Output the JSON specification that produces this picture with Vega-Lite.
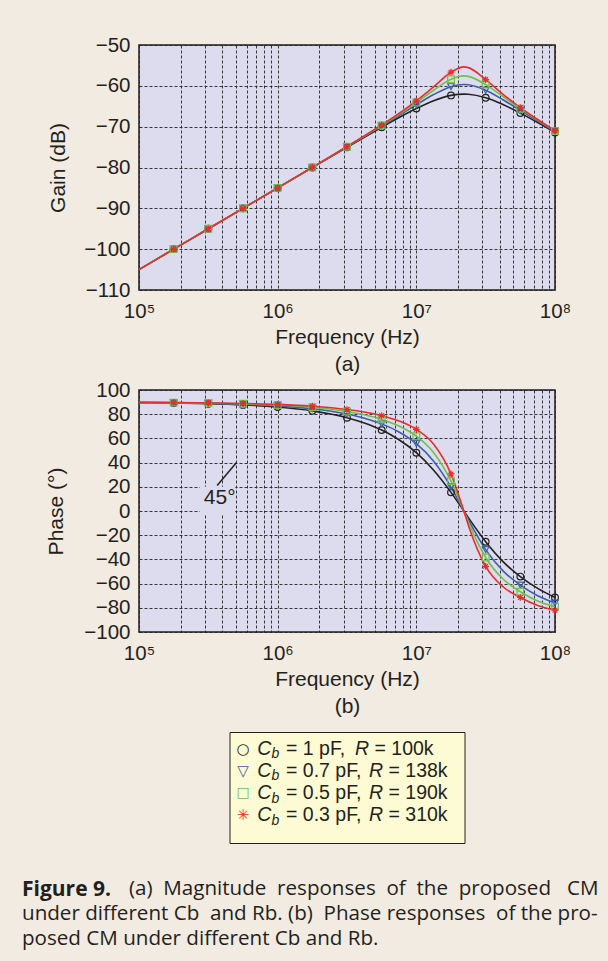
{
  "$schema": "https://vega.github.io/schema/vega-lite/v6.json",
  "background": "#f2ebe1",
  "padding": {"left": 22, "top": 34, "right": 30, "bottom": 40},
  "bounds": "flush",
  "center": true,
  "spacing": 100,
  "resolve": {"scale": {"x": "independent", "y": "independent"}},
  "config": {
    "font": "Liberation Sans",
    "view": {"fill": "#dcdcee", "stroke": "#1e1e1e", "strokeWidth": 1.5},
    "axis": {
      "labelFont": "Liberation Sans", "labelFontSize": 20.5, "labelColor": "#231f20",
      "titleFont": "Liberation Sans", "titleFontSize": 21, "titleFontWeight": "normal", "titleColor": "#231f20",
      "domain": false, "ticks": false, "tickSize": 0, "grid": true,
      "gridColor": "#222222", "gridDash": [3, 2], "gridWidth": 0.9, "gridOpacity": 1,
      "labelOverlap": false, "labelFlush": false, "labelBound": false
    },
    "axisX": {"labelPadding": 11, "titlePadding": 5, "titleLineHeight": 27},
    "axisY": {"labelPadding": 9}
  },
  "title": {
    "text": "Figure 9.",
    "subtitle": [
      "\u200b\u00a0\u00a0\u00a0\u00a0\u00a0\u00a0\u00a0\u00a0\u00a0\u00a0\u00a0\u00a0\u00a0\u00a0\u00a0\u00a0\u00a0\u00a0\u00a0\u00a0(a)\u00a0 Magnitude\u00a0 responses\u00a0 of\u00a0 the\u00a0 proposed\u00a0\u00a0 CM",
      "under different Cb\u00a0 and Rb. (b)\u00a0 Phase responses\u00a0 of the pro-",
      "posed CM under different Cb and Rb."
    ],
    "orient": "bottom", "anchor": "start", "frame": "group",
    "dx": -117, "offset": 35,
    "font": "Open Sans", "fontSize": 21, "fontWeight": "bold", "color": "#231f20",
    "subtitleFont": "Open Sans", "subtitleFontSize": 20.6, "subtitleColor": "#231f20", "subtitleFontWeight": "normal",
    "subtitleLineHeight": 25, "subtitlePadding": -21
  },
  "datasets": {
    "curves": [
      {"s": "Cb = 1 pF, R = 100k", "f": 100000, "g": -105.0, "p": 89.6, "m": 0},
      {"s": "Cb = 1 pF, R = 100k", "f": 177828, "g": -100.0, "p": 89.3, "m": 1},
      {"s": "Cb = 1 pF, R = 100k", "f": 316228, "g": -95.0, "p": 88.7, "m": 1},
      {"s": "Cb = 1 pF, R = 100k", "f": 562341, "g": -90.0, "p": 87.7, "m": 1},
      {"s": "Cb = 1 pF, R = 100k", "f": 1000000, "g": -85.01, "p": 85.9, "m": 1},
      {"s": "Cb = 1 pF, R = 100k", "f": 1778279, "g": -80.01, "p": 82.75, "m": 1},
      {"s": "Cb = 1 pF, R = 100k", "f": 3162278, "g": -75.04, "p": 77.1, "m": 1},
      {"s": "Cb = 1 pF, R = 100k", "f": 4216965, "g": -72.58, "p": 72.7, "m": 0},
      {"s": "Cb = 1 pF, R = 100k", "f": 5623413, "g": -70.14, "p": 66.9, "m": 1},
      {"s": "Cb = 1 pF, R = 100k", "f": 7498942, "g": -67.77, "p": 58.9, "m": 0},
      {"s": "Cb = 1 pF, R = 100k", "f": 10000000, "g": -65.55, "p": 48.2, "m": 1},
      {"s": "Cb = 1 pF, R = 100k", "f": 13335214, "g": -63.63, "p": 33.7, "m": 0},
      {"s": "Cb = 1 pF, R = 100k", "f": 17782794, "g": -62.34, "p": 15.4, "m": 1},
      {"s": "Cb = 1 pF, R = 100k", "f": 22000000, "g": -62.03, "p": 0, "m": 0},
      {"s": "Cb = 1 pF, R = 100k", "f": 23713737, "g": -62.07, "p": -5.5, "m": 0},
      {"s": "Cb = 1 pF, R = 100k", "f": 31622777, "g": -62.91, "p": -25.4, "m": 1},
      {"s": "Cb = 1 pF, R = 100k", "f": 42169650, "g": -64.57, "p": -41.8, "m": 0},
      {"s": "Cb = 1 pF, R = 100k", "f": 56234133, "g": -66.68, "p": -54.2, "m": 1},
      {"s": "Cb = 1 pF, R = 100k", "f": 74989421, "g": -68.99, "p": -64.0, "m": 0},
      {"s": "Cb = 1 pF, R = 100k", "f": 100000000, "g": -71.4, "p": -71.5, "m": 1},

      {"s": "Cb = 0.7 pF, R = 138k", "f": 100000, "g": -105.0, "p": 89.7, "m": 0},
      {"s": "Cb = 0.7 pF, R = 138k", "f": 177828, "g": -100.0, "p": 89.45, "m": 1},
      {"s": "Cb = 0.7 pF, R = 138k", "f": 316228, "g": -95.0, "p": 89.0, "m": 1},
      {"s": "Cb = 0.7 pF, R = 138k", "f": 562341, "g": -90.0, "p": 88.3, "m": 1},
      {"s": "Cb = 0.7 pF, R = 138k", "f": 1000000, "g": -85.0, "p": 86.9, "m": 1},
      {"s": "Cb = 0.7 pF, R = 138k", "f": 1778279, "g": -80.0, "p": 84.5, "m": 1},
      {"s": "Cb = 0.7 pF, R = 138k", "f": 3162278, "g": -74.95, "p": 80.1, "m": 1},
      {"s": "Cb = 0.7 pF, R = 138k", "f": 4216965, "g": -72.41, "p": 76.7, "m": 0},
      {"s": "Cb = 0.7 pF, R = 138k", "f": 5623413, "g": -69.85, "p": 72.0, "m": 1},
      {"s": "Cb = 0.7 pF, R = 138k", "f": 7498942, "g": -67.26, "p": 65.3, "m": 0},
      {"s": "Cb = 0.7 pF, R = 138k", "f": 10000000, "g": -64.65, "p": 55.7, "m": 1},
      {"s": "Cb = 0.7 pF, R = 138k", "f": 13335214, "g": -62.14, "p": 41.2, "m": 0},
      {"s": "Cb = 0.7 pF, R = 138k", "f": 17782794, "g": -60.2, "p": 19.8, "m": 1},
      {"s": "Cb = 0.7 pF, R = 138k", "f": 22000000, "g": -59.66, "p": 0, "m": 0},
      {"s": "Cb = 0.7 pF, R = 138k", "f": 23713737, "g": -59.73, "p": -7.2, "m": 0},
      {"s": "Cb = 0.7 pF, R = 138k", "f": 31622777, "g": -61.09, "p": -31.9, "m": 1},
      {"s": "Cb = 0.7 pF, R = 138k", "f": 42169650, "g": -63.42, "p": -49.5, "m": 0},
      {"s": "Cb = 0.7 pF, R = 138k", "f": 56234133, "g": -66.01, "p": -61.2, "m": 1},
      {"s": "Cb = 0.7 pF, R = 138k", "f": 74989421, "g": -68.61, "p": -70.0, "m": 0},
      {"s": "Cb = 0.7 pF, R = 138k", "f": 100000000, "g": -71.19, "p": -76.0, "m": 1},

      {"s": "Cb = 0.5 pF, R = 190k", "f": 100000, "g": -105.0, "p": 89.75, "m": 0},
      {"s": "Cb = 0.5 pF, R = 190k", "f": 177828, "g": -100.0, "p": 89.6, "m": 1},
      {"s": "Cb = 0.5 pF, R = 190k", "f": 316228, "g": -95.0, "p": 89.2, "m": 1},
      {"s": "Cb = 0.5 pF, R = 190k", "f": 562341, "g": -90.0, "p": 88.6, "m": 1},
      {"s": "Cb = 0.5 pF, R = 190k", "f": 1000000, "g": -85.0, "p": 87.6, "m": 1},
      {"s": "Cb = 0.5 pF, R = 190k", "f": 1778279, "g": -79.98, "p": 85.7, "m": 1},
      {"s": "Cb = 0.5 pF, R = 190k", "f": 3162278, "g": -74.9, "p": 82.2, "m": 1},
      {"s": "Cb = 0.5 pF, R = 190k", "f": 4216965, "g": -72.32, "p": 79.5, "m": 0},
      {"s": "Cb = 0.5 pF, R = 190k", "f": 5623413, "g": -69.69, "p": 75.7, "m": 1},
      {"s": "Cb = 0.5 pF, R = 190k", "f": 7498942, "g": -66.96, "p": 70.2, "m": 0},
      {"s": "Cb = 0.5 pF, R = 190k", "f": 10000000, "g": -64.09, "p": 61.8, "m": 1},
      {"s": "Cb = 0.5 pF, R = 190k", "f": 13335214, "g": -61.08, "p": 48.2, "m": 0},
      {"s": "Cb = 0.5 pF, R = 190k", "f": 17782794, "g": -58.39, "p": 24.7, "m": 1},
      {"s": "Cb = 0.5 pF, R = 190k", "f": 22000000, "g": -57.56, "p": 0, "m": 0},
      {"s": "Cb = 0.5 pF, R = 190k", "f": 23713737, "g": -57.68, "p": -9.1, "m": 0},
      {"s": "Cb = 0.5 pF, R = 190k", "f": 31622777, "g": -59.69, "p": -38.4, "m": 1},
      {"s": "Cb = 0.5 pF, R = 190k", "f": 42169650, "g": -62.65, "p": -56.2, "m": 0},
      {"s": "Cb = 0.5 pF, R = 190k", "f": 56234133, "g": -65.6, "p": -66.7, "m": 1},
      {"s": "Cb = 0.5 pF, R = 190k", "f": 74989421, "g": -68.39, "p": -74.3, "m": 0},
      {"s": "Cb = 0.5 pF, R = 190k", "f": 100000000, "g": -71.07, "p": -79.0, "m": 1},

      {"s": "Cb = 0.3 pF, R = 310k", "f": 100000, "g": -105.0, "p": 89.8, "m": 0},
      {"s": "Cb = 0.3 pF, R = 310k", "f": 177828, "g": -100.0, "p": 89.7, "m": 1},
      {"s": "Cb = 0.3 pF, R = 310k", "f": 316228, "g": -95.0, "p": 89.4, "m": 1},
      {"s": "Cb = 0.3 pF, R = 310k", "f": 562341, "g": -90.0, "p": 88.9, "m": 1},
      {"s": "Cb = 0.3 pF, R = 310k", "f": 1000000, "g": -84.99, "p": 88.1, "m": 1},
      {"s": "Cb = 0.3 pF, R = 310k", "f": 1778279, "g": -79.96, "p": 86.6, "m": 1},
      {"s": "Cb = 0.3 pF, R = 310k", "f": 3162278, "g": -74.87, "p": 83.9, "m": 1},
      {"s": "Cb = 0.3 pF, R = 310k", "f": 4216965, "g": -72.26, "p": 81.8, "m": 0},
      {"s": "Cb = 0.3 pF, R = 310k", "f": 5623413, "g": -69.58, "p": 78.8, "m": 1},
      {"s": "Cb = 0.3 pF, R = 310k", "f": 7498942, "g": -66.75, "p": 74.4, "m": 0},
      {"s": "Cb = 0.3 pF, R = 310k", "f": 10000000, "g": -63.68, "p": 67.5, "m": 1},
      {"s": "Cb = 0.3 pF, R = 310k", "f": 13335214, "g": -60.23, "p": 55.2, "m": 0},
      {"s": "Cb = 0.3 pF, R = 310k", "f": 17782794, "g": -56.66, "p": 30.6, "m": 1},
      {"s": "Cb = 0.3 pF, R = 310k", "f": 22000000, "g": -55.35, "p": 0, "m": 0},
      {"s": "Cb = 0.3 pF, R = 310k", "f": 23713737, "g": -55.54, "p": -11.7, "m": 0},
      {"s": "Cb = 0.3 pF, R = 310k", "f": 31622777, "g": -58.47, "p": -45.7, "m": 1},
      {"s": "Cb = 0.3 pF, R = 310k", "f": 42169650, "g": -62.08, "p": -62.6, "m": 0},
      {"s": "Cb = 0.3 pF, R = 310k", "f": 56234133, "g": -65.32, "p": -71.5, "m": 1},
      {"s": "Cb = 0.3 pF, R = 310k", "f": 74989421, "g": -68.25, "p": -78.0, "m": 0},
      {"s": "Cb = 0.3 pF, R = 310k", "f": 100000000, "g": -70.99, "p": -82.0, "m": 1}
    ],
    "vlines": [
      {"s": "Cb = 1 pF, R = 100k", "f": 10400000},
      {"s": "Cb = 0.7 pF, R = 138k", "f": 12200000},
      {"s": "Cb = 0.5 pF, R = 190k", "f": 13700000},
      {"s": "Cb = 0.3 pF, R = 310k", "f": 15100000}
    ],
    "leg": [
      {"s": "Cb = 1 pF, R = 100k", "c": "= 1 pF,", "r": "= 100k"},
      {"s": "Cb = 0.7 pF, R = 138k", "c": "= 0.7 pF,", "r": "= 138k"},
      {"s": "Cb = 0.5 pF, R = 190k", "c": "= 0.5 pF,", "r": "= 190k"},
      {"s": "Cb = 0.3 pF, R = 310k", "c": "= 0.3 pF,", "r": "= 310k"}
    ]
  },
  "vconcat": [
    {
      "width": 416, "height": 245,
      "data": {"name": "curves"},
      "encoding": {
        "x": {"field": "f", "type": "quantitative",
          "scale": {"type": "log", "domain": [100000, 100000000], "nice": false},
          "axis": {"values": [100000,200000,300000,400000,500000,600000,700000,800000,900000,1000000,2000000,3000000,4000000,5000000,6000000,7000000,8000000,9000000,10000000,20000000,30000000,40000000,50000000,60000000,70000000,80000000,90000000,100000000],
            "labelExpr": "datum.value == 100000 ? '10⁵' : datum.value == 1000000 ? '10⁶' : datum.value == 10000000 ? '10⁷' : datum.value == 100000000 ? '10⁸' : ''",
            "title": ["Frequency (Hz)", "(a)"]}},
        "y": {"field": "g", "type": "quantitative",
          "scale": {"domain": [-110, -50], "nice": false, "zero": false},
          "axis": {"values": [-110, -100, -90, -80, -70, -60, -50], "title": "Gain (dB)", "titlePadding": 15}},
        "color": {"field": "s", "type": "nominal",
          "scale": {"domain": ["Cb = 1 pF, R = 100k", "Cb = 0.7 pF, R = 138k", "Cb = 0.5 pF, R = 190k", "Cb = 0.3 pF, R = 310k"],
                    "range": ["#222222", "#3c5ead", "#6fc04d", "#ee2a2a"]},
          "legend": null}
      },
      "layer": [
        {"mark": {"type": "line", "interpolate": "monotone", "strokeWidth": 1.6}},
        {"transform": [{"filter": "datum.m == 1"}],
         "mark": {"type": "point", "filled": false, "strokeWidth": 1.2, "size": 45, "opacity": 1},
         "encoding": {"shape": {"field": "s", "type": "nominal",
           "scale": {"domain": ["Cb = 1 pF, R = 100k", "Cb = 0.7 pF, R = 138k", "Cb = 0.5 pF, R = 190k", "Cb = 0.3 pF, R = 310k"],
                     "range": ["circle", "triangle-down", "square", "M0,-1L0,1M-1,0L1,0M-0.7,-0.7L0.7,0.7M-0.7,0.7L0.7,-0.7"]},
           "legend": null}}}
      ]
    },
    {
      "width": 416, "height": 242,
      "data": {"name": "curves"},
      "encoding": {
        "x": {"field": "f", "type": "quantitative",
          "scale": {"type": "log", "domain": [100000, 100000000], "nice": false},
          "axis": {"values": [100000,200000,300000,400000,500000,600000,700000,800000,900000,1000000,2000000,3000000,4000000,5000000,6000000,7000000,8000000,9000000,10000000,20000000,30000000,40000000,50000000,60000000,70000000,80000000,90000000,100000000],
            "labelExpr": "datum.value == 100000 ? '10⁵' : datum.value == 1000000 ? '10⁶' : datum.value == 10000000 ? '10⁷' : datum.value == 100000000 ? '10⁸' : ''",
            "title": ["Frequency (Hz)", "(b)"]}},
        "y": {"field": "p", "type": "quantitative",
          "scale": {"domain": [-100, 100], "nice": false, "zero": false},
          "axis": {"values": [-100, -80, -60, -40, -20, 0, 20, 40, 60, 80, 100], "title": "Phase (°)", "titlePadding": 17}},
        "color": {"field": "s", "type": "nominal",
          "scale": {"domain": ["Cb = 1 pF, R = 100k", "Cb = 0.7 pF, R = 138k", "Cb = 0.5 pF, R = 190k", "Cb = 0.3 pF, R = 310k"],
                    "range": ["#222222", "#3c5ead", "#6fc04d", "#ee2a2a"]},
          "legend": null}
      },
      "layer": [
        {"data": {"values": [{"f": 275000, "f2": 495000, "p": -3, "p2": 20}]},
         "mark": {"type": "rect"},
         "encoding": {"x2": {"field": "f2"}, "y2": {"field": "p2"}, "color": {"value": "#dcdcee"}}},
        {"data": {"name": "vlines"},
         "mark": {"type": "rule", "strokeDash": [4, 3], "strokeWidth": 1.3},
         "encoding": {"y": {"datum": 45}, "y2": {"datum": -100}}},
        {"data": {"values": [{"t": "45"}]},
         "mark": {"type": "rule", "strokeWidth": 1.5},
         "encoding": {"x": {"datum": 100000}, "x2": {"datum": 100000000}, "y": {"datum": 45}, "color": {"value": "#c24da6"}}},
        {"mark": {"type": "line", "interpolate": "monotone", "strokeWidth": 1.6}},
        {"transform": [{"filter": "datum.m == 1"}],
         "mark": {"type": "point", "filled": false, "strokeWidth": 1.2, "size": 45, "opacity": 1},
         "encoding": {"shape": {"field": "s", "type": "nominal",
           "scale": {"domain": ["Cb = 1 pF, R = 100k", "Cb = 0.7 pF, R = 138k", "Cb = 0.5 pF, R = 190k", "Cb = 0.3 pF, R = 310k"],
                     "range": ["circle", "triangle-down", "square", "M0,-1L0,1M-1,0L1,0M-0.7,-0.7L0.7,0.7M-0.7,0.7L0.7,-0.7"]},
           "legend": null}}},
        {"data": {"values": [{"f": 366000, "p": 21, "f2": 505000, "p2": 40}]},
         "mark": {"type": "rule", "strokeWidth": 1.5},
         "encoding": {"x2": {"field": "f2"}, "y2": {"field": "p2"}, "color": {"value": "#222222"}}},
        {"data": {"values": [{"f": 382000, "p": 11, "t": "45°"}]},
         "mark": {"type": "text", "fontSize": 21, "font": "Liberation Sans"},
         "encoding": {"text": {"field": "t"}, "color": {"value": "#231f20"}}}
      ]
    },
    {
      "width": 235, "height": 111,
      "view": {"fill": "#fdfbd3", "stroke": "#222222", "strokeWidth": 1},
      "data": {"name": "leg"},
      "encoding": {
        "y": {"field": "s", "type": "nominal",
          "scale": {"type": "point", "padding": 1, "domain": ["Cb = 1 pF, R = 100k", "Cb = 0.7 pF, R = 138k", "Cb = 0.5 pF, R = 190k", "Cb = 0.3 pF, R = 310k"]},
          "axis": null}
      },
      "layer": [
        {"transform": [{"filter": "datum.s == 'Cb = 1 pF, R = 100k'"}],
         "mark": {"type": "text", "text": "○", "font": "DejaVu Sans", "fontSize": 15, "dx": -104, "dy": -5.5},
         "encoding": {"color": {"field": "s", "type": "nominal", "legend": null}}},
        {"transform": [{"filter": "datum.s == 'Cb = 0.7 pF, R = 138k'"}],
         "mark": {"type": "text", "text": "▽", "font": "DejaVu Sans", "fontSize": 15, "dx": -104, "dy": -5.5},
         "encoding": {"color": {"field": "s", "type": "nominal", "legend": null}}},
        {"transform": [{"filter": "datum.s == 'Cb = 0.5 pF, R = 190k'"}],
         "mark": {"type": "text", "text": "□", "font": "DejaVu Sans", "fontSize": 14, "dx": -104, "dy": -5.5},
         "encoding": {"color": {"field": "s", "type": "nominal", "legend": null}}},
        {"transform": [{"filter": "datum.s == 'Cb = 0.3 pF, R = 310k'"}],
         "mark": {"type": "text", "text": "✳", "font": "DejaVu Sans", "fontSize": 15, "dx": -104, "dy": -5.5},
         "encoding": {"color": {"field": "s", "type": "nominal", "legend": null}}},
        {"mark": {"type": "text", "text": "C", "fontStyle": "italic", "align": "left", "fontSize": 19.5, "dx": -89.7, "dy": -5.5, "color": "#231f20"}},
        {"mark": {"type": "text", "text": "b", "fontStyle": "italic", "align": "left", "fontSize": 14, "dx": -75.5, "dy": 0, "color": "#231f20"}},
        {"mark": {"type": "text", "align": "left", "fontSize": 19.5, "dx": -61, "dy": -5.5, "color": "#231f20"},
         "encoding": {"text": {"field": "c"}}},
        {"transform": [{"filter": "datum.s == 'Cb = 1 pF, R = 100k'"}],
         "mark": {"type": "text", "text": "R", "fontStyle": "italic", "align": "left", "fontSize": 19.5, "dx": 8, "dy": -5.5, "color": "#231f20"}},
        {"transform": [{"filter": "datum.s != 'Cb = 1 pF, R = 100k'"}],
         "mark": {"type": "text", "text": "R", "fontStyle": "italic", "align": "left", "fontSize": 19.5, "dx": 22, "dy": -5.5, "color": "#231f20"}},
        {"transform": [{"filter": "datum.s == 'Cb = 1 pF, R = 100k'"}],
         "mark": {"type": "text", "align": "left", "fontSize": 19.5, "dx": 27.5, "dy": -5.5, "color": "#231f20"},
         "encoding": {"text": {"field": "r"}}},
        {"transform": [{"filter": "datum.s != 'Cb = 1 pF, R = 100k'"}],
         "mark": {"type": "text", "align": "left", "fontSize": 19.5, "dx": 41.5, "dy": -5.5, "color": "#231f20"},
         "encoding": {"text": {"field": "r"}}}
      ]
    }
  ]
}
